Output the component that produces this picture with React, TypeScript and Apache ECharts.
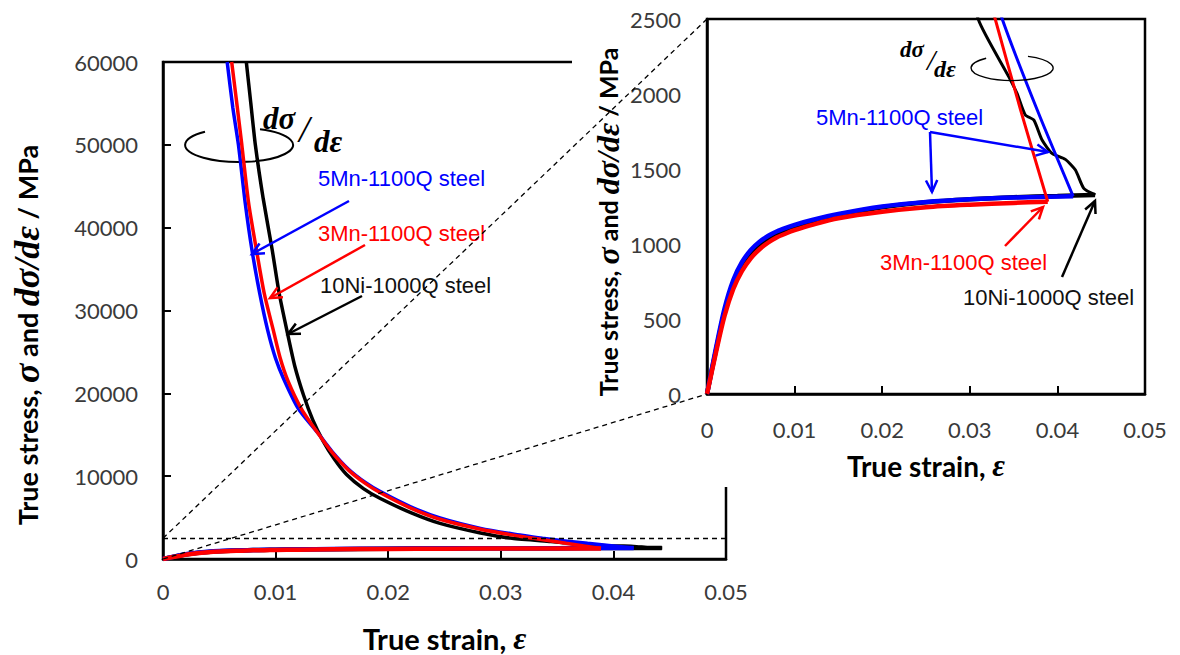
import React, { useEffect, useRef } from 'react';
import * as echarts from 'echarts';

// ---------- data ----------
const strainMax = 0.05;
const strainStep = 0.01;
const mainStressMax = 60000;
const mainStressStep = 10000;
const zoomMax = 2500;
const zoomStep = 500;

// True stress curves [strain, MPa]
const stress5Mn: number[][] = [[0,0],[0.001,300],[0.002,570],[0.003,760],[0.004,880],[0.005,960],[0.006,1015],[0.007,1055],[0.008,1085],[0.009,1108],[0.01,1128],[0.012,1160],[0.015,1200],[0.02,1250],[0.025,1280],[0.03,1298],[0.035,1310],[0.0418,1318]];
const stress3Mn: number[][] = [[0,0],[0.001,270],[0.002,520],[0.003,700],[0.004,820],[0.005,905],[0.006,965],[0.007,1010],[0.008,1045],[0.009,1070],[0.01,1092],[0.012,1128],[0.015,1172],[0.02,1215],[0.025,1245],[0.03,1262],[0.035,1274],[0.0389,1282]];
const stress10Ni: number[][] = [[0,0],[0.001,285],[0.002,550],[0.003,735],[0.004,855],[0.005,940],[0.006,998],[0.007,1040],[0.008,1072],[0.009,1096],[0.01,1116],[0.012,1150],[0.015,1192],[0.02,1245],[0.025,1278],[0.03,1298],[0.035,1312],[0.04,1320],[0.0443,1327]];

// Work-hardening rate dσ/dε [strain, MPa]
const rate5Mn: number[][] = [[0.0057,60000],[0.0062,54500],[0.0067,50000],[0.0073,43000],[0.0079,37300],[0.0086,32000],[0.0093,27600],[0.01,24200],[0.0107,21800],[0.012,18200],[0.0137,15300],[0.015,13000],[0.0165,10800],[0.018,9200],[0.0193,8130],[0.022,6300],[0.0246,4950],[0.0282,3700],[0.0317,2900],[0.0337,2500],[0.0377,1893],[0.0418,1318]];
const rate3Mn: number[][] = [[0.0061,60000],[0.0066,54500],[0.007,50000],[0.0076,43000],[0.0083,37300],[0.009,32000],[0.0098,27600],[0.0104,24300],[0.0111,21500],[0.0123,18100],[0.0137,15300],[0.015,12900],[0.0165,10700],[0.018,9100],[0.0193,8000],[0.022,6150],[0.0246,4800],[0.0282,3600],[0.0317,2750],[0.0329,2500],[0.0358,1893],[0.0389,1282]];
const rate10Ni: number[][] = [[0.0074,60000],[0.0078,55000],[0.0082,50000],[0.0089,43500],[0.0097,37300],[0.0103,32200],[0.011,27600],[0.0117,23300],[0.0125,19700],[0.0133,16800],[0.0142,14300],[0.0152,12100],[0.0163,10200],[0.0178,8500],[0.0193,7300],[0.022,5600],[0.0246,4300],[0.0282,3140],[0.031,2493],[0.03444,2116],[0.03539,2004],[0.03634,1860],[0.0373,1827],[0.03825,1693],[0.03939,1604],[0.04091,1564],[0.04206,1493],[0.04301,1371],[0.04434,1327]];

const labels = {
  mn5: '5Mn-1100Q steel',
  mn3: '3Mn-1100Q steel',
  ni10: '10Ni-1000Q steel',
};

const BLUE = '#0000FF';
const RED = '#FF0000';
const BLACK = '#000000';
const SANS = 'Lato, "Open Sans", sans-serif';
const ARIAL = '"Liberation Sans", Arial, sans-serif';
const SERIF = '"Liberation Serif", "DejaVu Serif", serif';

function arrow(x1: number, y1: number, x2: number, y2: number, color: string, w = 2.5, head = 13): any[] {
  const ang = Math.atan2(y2 - y1, x2 - x1);
  const a1 = ang + Math.PI - 0.45;
  const a2 = ang + Math.PI + 0.45;
  return [
    { type: 'line', z: 15, silent: true, shape: { x1, y1, x2, y2 }, style: { stroke: color, lineWidth: w } },
    {
      type: 'polyline', z: 15, silent: true,
      shape: { points: [[x2 + head * Math.cos(a1), y2 + head * Math.sin(a1)], [x2, y2], [x2 + head * Math.cos(a2), y2 + head * Math.sin(a2)]] },
      style: { stroke: color, lineWidth: w, fill: 'none' },
    },
  ];
}

function txt(text: string, x: number, y: number, color: string, font: any): any {
  return { type: 'text', z: 16, silent: true, x, y, style: { text, fill: color, align: 'left', verticalAlign: 'middle', ...font } };
}

const tickFmt = (v: number) => (v === 0 ? '0' : v.toFixed(2));
const intFmt = (v: number) => String(Math.round(v));

export default function App() {
  const ref = useRef<HTMLDivElement>(null);
  useEffect(() => {
    if (!ref.current) return;
    echarts.graphic.registerShape('openEllipse', echarts.graphic.extendPath('M -34 -13.2 A 54 17 0 1 0 21 -15.7', {}) as any);
    const chart = echarts.init(ref.current, null, { renderer: 'svg' });

    const axisLine = { show: true, onZero: false, lineStyle: { color: BLACK, width: 2.5 } };
    const labelStyle = { fontSize: 22, fontFamily: SANS, color: '#3a3a3a' };

    const lineSeries = (data: number[][], color: string, width: number, idx: number, extra: any = {}) => ({
      type: 'line', data, xAxisIndex: idx, yAxisIndex: idx, showSymbol: false, symbol: 'none',
      smooth: 0.3, clip: true, animation: false,
      lineStyle: { color, width }, z: idx === 0 ? 2 : 7, ...extra,
    });

    const seriesFor = (idx: number) => {
      const sw = 4.5;
      const rw = idx === 0 ? 3.5 : 3;
      return [
        lineSeries(stress10Ni, BLACK, sw, idx),
        lineSeries(rate10Ni, BLACK, rw, idx, { smooth: 0.2 }),
        lineSeries(stress5Mn, BLUE, sw, idx),
        lineSeries(rate5Mn, BLUE, rw, idx, { smooth: 0.25 }),
        lineSeries(stress3Mn, RED, sw, idx),
        lineSeries(rate3Mn, RED, rw, idx, {
          smooth: 0.25,
          ...(idx === 0 ? {
            markLine: {
              silent: true, symbol: 'none', animation: false,
              lineStyle: { type: [5, 4], color: BLACK, width: 1.3 },
              label: { show: false }, data: [{ yAxis: zoomMax }],
            },
          } : {}),
        }),
      ];
    };

    const serif = (size: number) => ({ fontFamily: SERIF, fontStyle: 'italic', fontWeight: 'bold', fontSize: size });

    const staticGraphic: any[] = [
      // inset background covering main frame
      { type: 'rect', id: 'cover', z: 1, silent: true, shape: { x: 572, y: 0, width: 608, height: 487 }, style: { fill: '#fff' } },
      // main annotations
      { type: 'openEllipse', z: 1, silent: true, x: 239, y: 145, scaleX: 1, scaleY: 1, style: { stroke: BLACK, lineWidth: 2, fill: 'none' } },
      txt('dσ', 263, 118, BLACK, serif(31)),
      txt('/', 299, 129, BLACK, { fontFamily: SERIF, fontSize: 38, fontStyle: 'italic' }),
      txt('dε', 314, 141, BLACK, serif(31)),
      txt(labels.mn5, 318, 178, BLUE, { fontFamily: ARIAL, fontSize: 22 }),
      txt(labels.mn3, 318, 233, RED, { fontFamily: ARIAL, fontSize: 22 }),
      txt(labels.ni10, 320, 285, '#111', { fontFamily: ARIAL, fontSize: 22 }),
      ...arrow(349, 201, 252, 254, BLUE),
      ...arrow(365, 245, 270, 298, RED),
      ...arrow(362, 296, 288, 334, BLACK),
      // inset annotations
      { type: 'openEllipse', z: 8, silent: true, x: 1012, y: 68, scaleX: 0.76, scaleY: 0.74, style: { stroke: BLACK, lineWidth: 1.8, fill: 'none' } },
      txt('dσ', 900, 49, BLACK, serif(23)),
      txt('/', 927, 59, BLACK, { fontFamily: SERIF, fontSize: 30, fontStyle: 'italic' }),
      txt('dε', 934, 69, BLACK, serif(24)),
      txt(labels.mn5, 816, 117, BLUE, { fontFamily: ARIAL, fontSize: 22 }),
      txt(labels.mn3, 880, 262, RED, { fontFamily: ARIAL, fontSize: 22 }),
      txt(labels.ni10, 963, 297, '#111', { fontFamily: ARIAL, fontSize: 22 }),
      ...arrow(930, 132, 1048, 152, BLUE),
      ...arrow(930, 132, 932, 192, BLUE),
      ...arrow(1005, 246, 1043, 207, RED),
      ...arrow(1062, 277, 1095, 201, BLACK),
      // y-axis titles
      {
        type: 'text', z: 16, silent: true, x: 27, y: 335, rotation: Math.PI / 2,
        style: {
          text: 'True stress, {m|σ} and {m|dσ/dε} / MPa', align: 'center', verticalAlign: 'middle',
          fontFamily: SANS, fontWeight: 'bold', fontSize: 27, fill: BLACK,
          rich: { m: { ...serif(36), fill: BLACK } },
        },
      },
      {
        type: 'text', z: 16, silent: true, x: 608, y: 222, rotation: Math.PI / 2,
        style: {
          text: 'True stress, {m|σ} and {m|dσ/dε} / MPa', align: 'center', verticalAlign: 'middle',
          fontFamily: SANS, fontWeight: 'bold', fontSize: 25, fill: BLACK,
          rich: { m: { ...serif(32), fill: BLACK } },
        },
      },
    ];

    const xName = (size: number) => ({
      fontFamily: SANS, fontWeight: 'bold', fontSize: size, color: BLACK,
      rich: { e: { fontFamily: SERIF, fontStyle: 'italic', fontWeight: 'bold', fontSize: size + 3, color: BLACK } },
    });

    const option: any = {
      animation: false,
      backgroundColor: '#fff',
      grid: [
        { left: 163, top: 62, right: 454, bottom: 96, outerBoundsMode: 'none', containLabel: false, show: true, borderColor: BLACK, borderWidth: 2.5, backgroundColor: 'transparent', z: 0 },
        { left: 707, top: 19, right: 35, bottom: 261, outerBoundsMode: 'none', containLabel: false, show: true, borderColor: BLACK, borderWidth: 2.5, backgroundColor: 'transparent', z: 5 },
      ],
      xAxis: [
        {
          gridIndex: 0, type: 'value', min: 0, max: strainMax, interval: strainStep,
          axisLine, axisTick: { show: true, inside: true, length: 8, lineStyle: { color: BLACK, width: 2 } },
          splitLine: { show: false },
          axisLabel: { ...labelStyle, margin: 21, formatter: tickFmt },
          name: 'True strain, {e|ε}', nameLocation: 'middle', nameGap: 63,
          nameTextStyle: xName(29),
        },
        {
          gridIndex: 1, type: 'value', min: 0, max: strainMax, interval: strainStep, z: 6,
          axisLine, axisTick: { show: true, inside: true, length: 8, lineStyle: { color: BLACK, width: 2 } },
          splitLine: { show: false },
          axisLabel: { ...labelStyle, margin: 24, formatter: tickFmt },
          name: 'True strain, {e|ε}', nameLocation: 'middle', nameGap: 56,
          nameTextStyle: xName(28),
        },
      ],
      yAxis: [
        {
          gridIndex: 0, type: 'value', min: 0, max: mainStressMax, interval: mainStressStep,
          axisLine, axisTick: { show: true, inside: true, length: 8, lineStyle: { color: BLACK, width: 2 } },
          splitLine: { show: false },
          axisLabel: { ...labelStyle, margin: 25, formatter: intFmt },
        },
        {
          gridIndex: 1, type: 'value', min: 0, max: zoomMax, interval: zoomStep, z: 6,
          axisLine, axisTick: { show: false },
          splitLine: { show: false },
          axisLabel: { ...labelStyle, margin: 26, formatter: intFmt },
        },
      ],
      series: [...seriesFor(0), ...seriesFor(1)],
      graphic: staticGraphic,
    };
    chart.setOption(option);

    // dashed connectors from main zoom window to inset corners
    const pTop0 = chart.convertToPixel({ gridIndex: 0 } as any, [0, zoomMax]) as number[];
    const pBot0 = chart.convertToPixel({ gridIndex: 0 } as any, [0, 0]) as number[];
    const pTop1 = chart.convertToPixel({ gridIndex: 1 } as any, [0, zoomMax]) as number[];
    const pBot1 = chart.convertToPixel({ gridIndex: 1 } as any, [0, 0]) as number[];
    const dashed = { stroke: BLACK, lineWidth: 1.3, lineDash: [5, 4] };
    chart.setOption({
      graphic: [
        ...staticGraphic,
        { type: 'line', z: 20, silent: true, shape: { x1: pTop0[0], y1: pTop0[1], x2: pTop1[0], y2: pTop1[1] }, style: dashed },
        { type: 'line', z: 20, silent: true, shape: { x1: pBot0[0], y1: pBot0[1], x2: pBot1[0], y2: pBot1[1] }, style: dashed },
      ],
    });

    return () => chart.dispose();
  }, []);

  return <div ref={ref} style={{ position: 'absolute', left: 0, top: 0, width: 1180, height: 655, background: '#fff' }} />;
}
